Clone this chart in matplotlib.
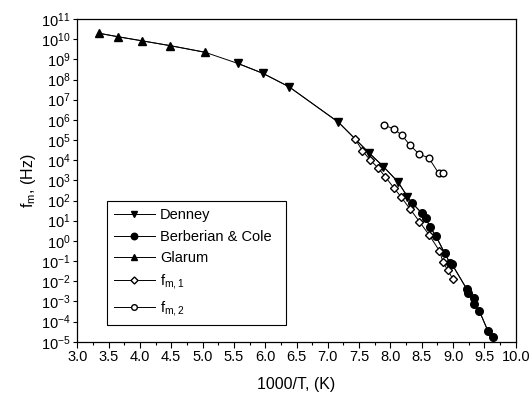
import matplotlib
matplotlib.use("Agg")
import matplotlib.pyplot as plt
import numpy as np
from matplotlib.ticker import FixedLocator, MultipleLocator, FuncFormatter

# values (x = 1000/T, y = log10 of frequency in Hz)
glarum_x = [3.35, 3.65, 4.03, 4.48, 5.04]
glarum_logf = [10.29, 10.12, 9.92, 9.68, 9.35]

denney_x = [5.56, 5.96, 6.38, 7.17, 7.665, 7.888, 8.118, 8.272]
denney_logf = [8.80, 8.31, 7.64, 5.88, 4.34, 3.68, 2.93, 2.19]

bc_x = [8.342, 8.502, 8.566, 8.634, 8.725, 8.863, 8.946, 8.981,
        9.220, 9.246, 9.326, 9.326, 9.42, 9.556, 9.645]
bc_logf = [1.89, 1.37, 1.12, 0.67, 0.24, -0.59, -1.08, -1.15,
           -2.40, -2.60, -2.82, -3.13, -3.48, -4.47, -4.75]

fm1_x = [7.436, 7.553, 7.676, 7.799, 7.916, 8.059, 8.166, 8.315,
         8.463, 8.618, 8.783, 8.837, 8.911, 8.997]
fm1_logf = [5.04, 4.47, 4.01, 3.63, 3.18, 2.61, 2.19, 1.57,
            0.95, 0.29, -0.50, -1.03, -1.44, -1.89]

fm2_x = [7.90, 8.05, 8.18, 8.31, 8.46, 8.61, 8.77, 8.84]
fm2_logf = [5.74, 5.55, 5.25, 4.75, 4.29, 4.12, 3.35, 3.35]

x_ticks = [3.0, 3.5, 4.0, 4.5, 5.0, 5.5, 6.0, 6.5, 7.0, 7.5, 8.0, 8.5, 9.0, 9.5, 10.0]
y_decades = list(range(-5, 12))

plt.rcParams.update({
    "font.family": ["Liberation Sans", "DejaVu Sans"],
    "mathtext.fontset": "custom",
    "mathtext.rm": "Liberation Sans",
    "mathtext.it": "Liberation Sans",
    "font.size": 10.5,
})

fig = plt.figure(figsize=(5.32, 3.99), dpi=100)
ax = fig.add_axes([0.1453, 0.1436, 0.8241, 0.8088])

def pw(v):
    return np.power(10.0, v)

# connecting curve through Glarum, Denney and Berberian & Cole
all_x = glarum_x + denney_x + bc_x
all_y = glarum_logf + denney_logf + bc_logf
ax.plot(all_x, pw(all_y), color="black", lw=0.7, zorder=1)

ax.plot(denney_x, pw(denney_logf), color="black", lw=0.7, marker="v", ms=5.5,
        mfc="black", mec="black", label="Denney", zorder=3)
ax.plot(bc_x, pw(bc_logf), color="black", lw=0.7, marker="o", ms=5.5,
        mfc="black", mec="black", label="Berberian & Cole", zorder=3)
ax.plot(glarum_x, pw(glarum_logf), color="black", lw=0.7, marker="^", ms=5.5,
        mfc="black", mec="black", label="Glarum", zorder=3)
ax.plot(fm1_x, pw(fm1_logf), color="black", lw=0.7, marker="D", ms=4.2,
        mfc="white", mec="black", mew=1.0, label=r"f$_{\mathrm{m,1}}$", zorder=4)
ax.plot(fm2_x, pw(fm2_logf), color="black", lw=0.7, marker="o", ms=4.8,
        mfc="white", mec="black", mew=1.0, label=r"f$_{\mathrm{m,2}}$", zorder=4)

ax.set_yscale("log")
ax.set_xlim(3.0, 10.0)
ax.set_ylim(1e-5, 1e11)
ax.xaxis.set_major_locator(FixedLocator(x_ticks))
ax.xaxis.set_minor_locator(MultipleLocator(0.25))
ax.xaxis.set_major_formatter(FuncFormatter(lambda v, p: f"{v:.1f}"))
ax.yaxis.set_major_locator(FixedLocator([10.0 ** d for d in y_decades]))
ax.yaxis.set_minor_locator(FixedLocator([]))
ax.yaxis.set_major_formatter(FuncFormatter(
    lambda v, p: r"$\mathrm{10^{%d}}$" % int(round(np.log10(v)))))

ax.tick_params(axis="both", which="both", direction="out", top=False, right=False,
               labelsize=10.5, width=0.8, pad=2)
ax.tick_params(axis="x", which="major", length=4)
ax.tick_params(axis="x", which="minor", length=2.5)
ax.tick_params(axis="y", which="major", length=3)
for s in ax.spines.values():
    s.set_linewidth(0.9)

ax.set_xlabel("1000/T, (K)", fontsize=11.5, labelpad=9)
ax.set_ylabel(r"f$_{\mathrm{m}}$, (Hz)", fontsize=11.5, labelpad=2)

leg = ax.legend(loc="lower left", bbox_to_anchor=(0.067, 0.052, 0.41, 0.397),
                mode="expand", fancybox=False, edgecolor="black", framealpha=1,
                fontsize=10.5, handlelength=2.8, labelspacing=0.5, markerscale=0.85,
                borderaxespad=0, handletextpad=0.35, borderpad=0.5)
leg.get_frame().set_linewidth(0.8)

fig.savefig("out.png", dpi=100)
